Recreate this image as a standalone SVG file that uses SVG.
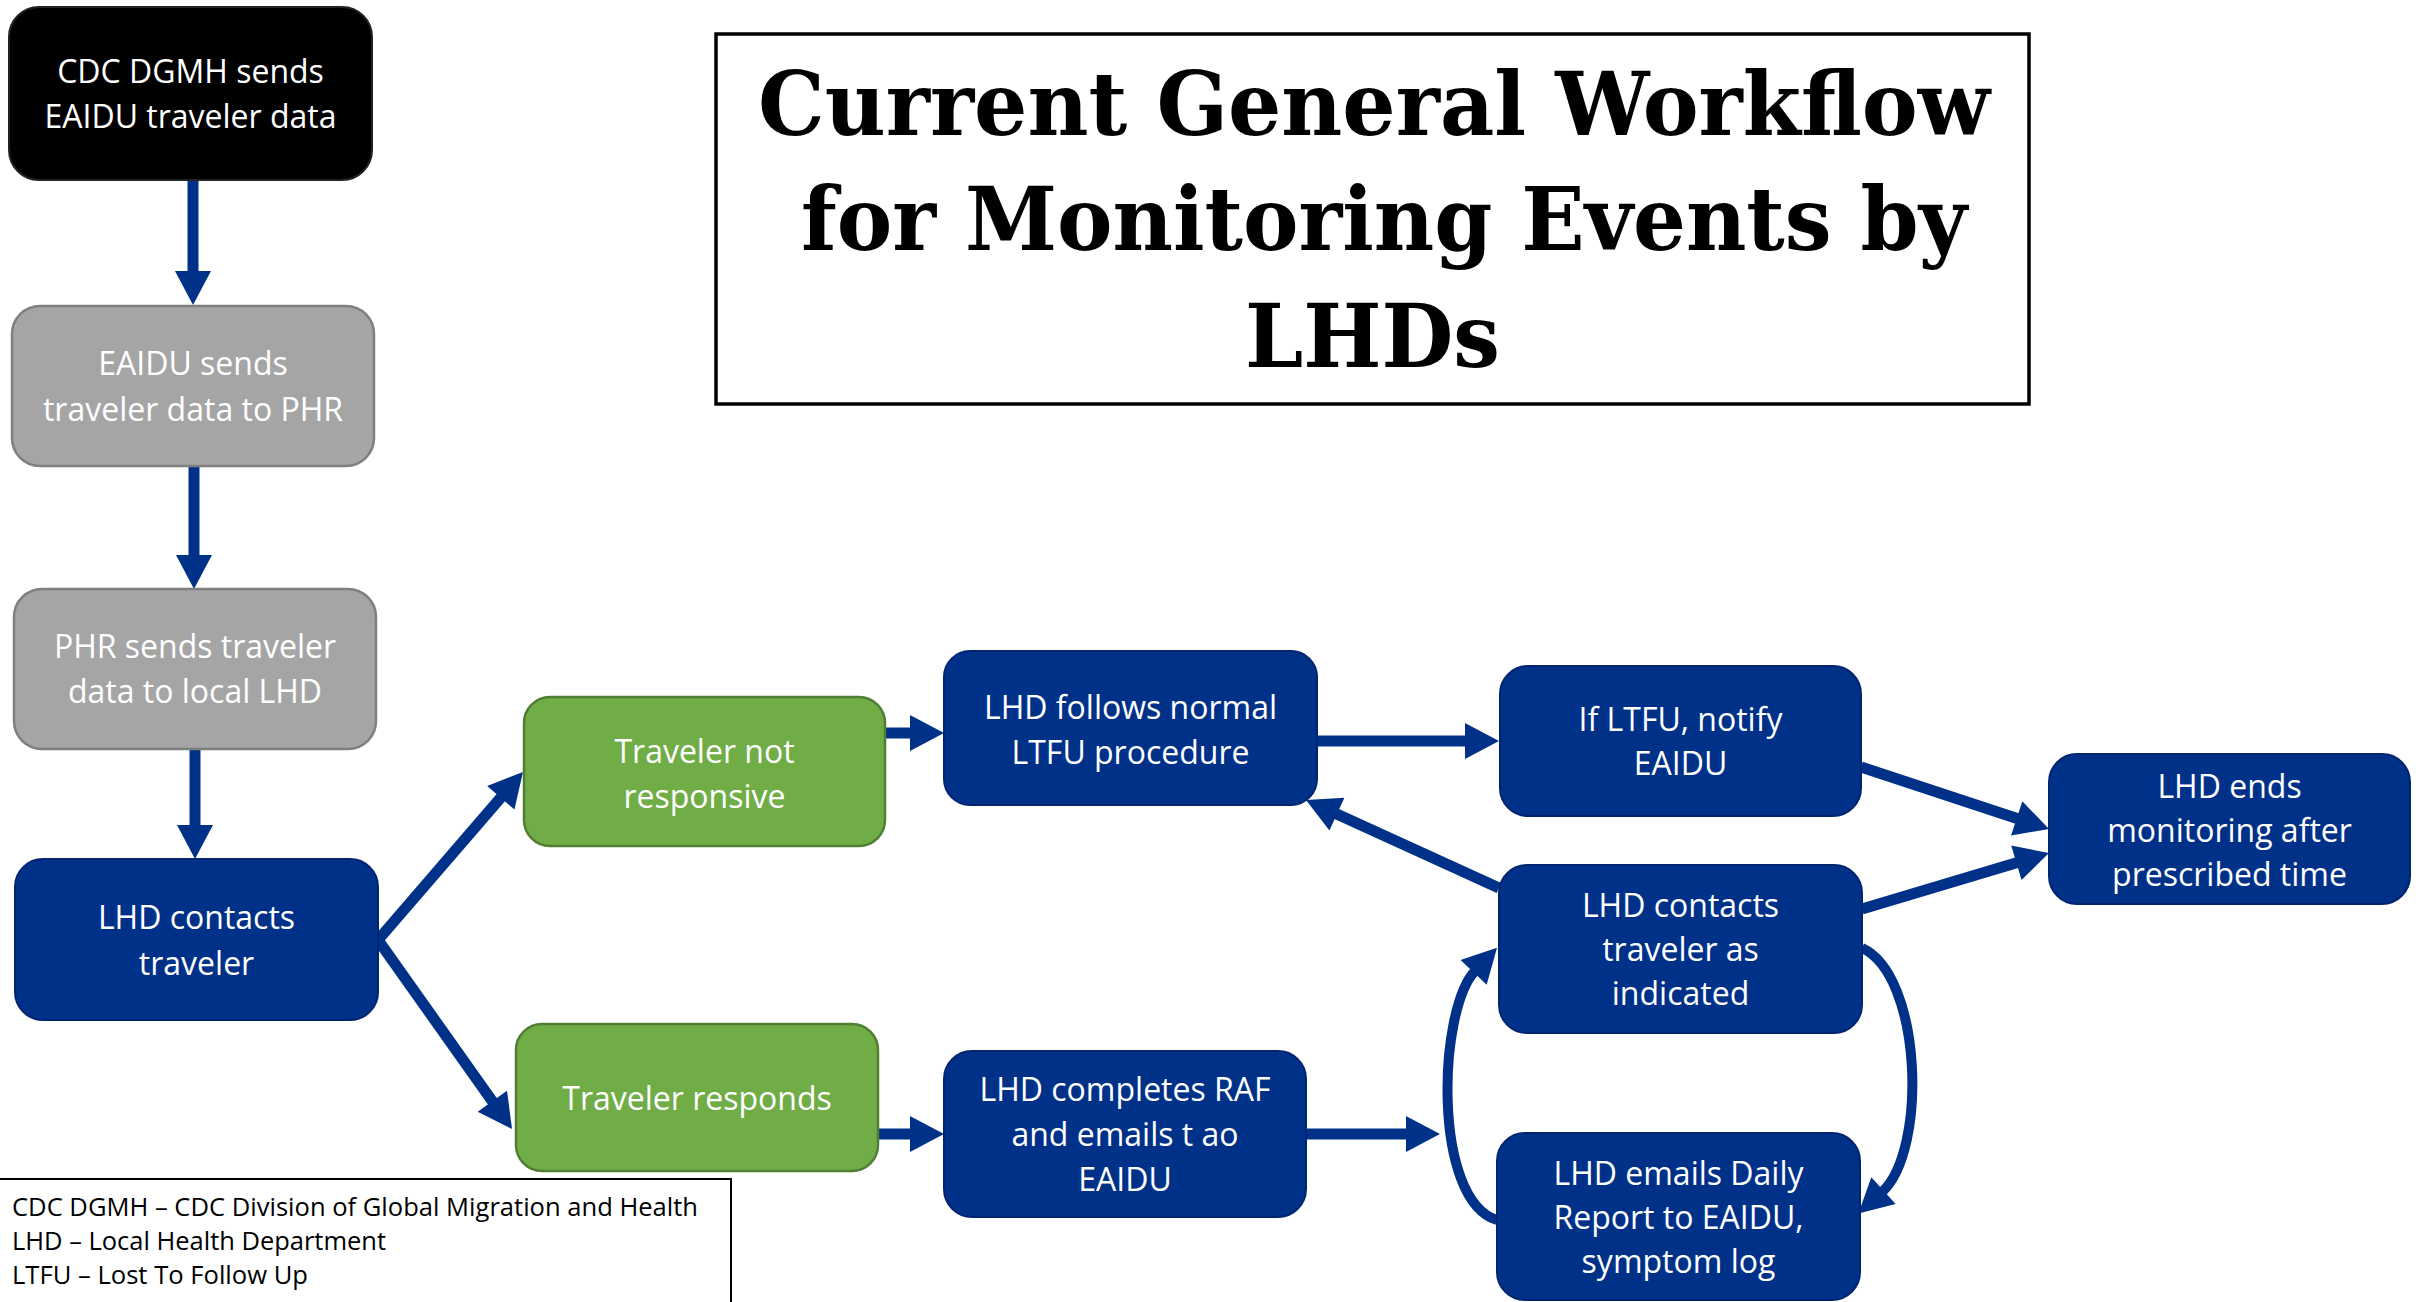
<svg xmlns="http://www.w3.org/2000/svg" width="2425" height="1302" viewBox="0 0 2425 1302">
<style>
.blue{fill:#003189;stroke:#002570;stroke-width:2}
.gray{fill:#a5a5a5;stroke:#7f7f7f;stroke-width:2.5}
.black{fill:#000;stroke:#222;stroke-width:2}
.green{fill:#70ad47;stroke:#507e32;stroke-width:2.5}
.nt{font-family:"Open Sans","Liberation Sans",sans-serif;font-size:32px;fill:#fff;text-anchor:middle}
.title{font-family:"DejaVu Serif","Liberation Serif",serif;font-weight:bold;font-size:88px;fill:#000}
.leg{font-family:"Open Sans","Liberation Sans",sans-serif;font-size:25.5px;fill:#000}
.c{stroke:#003189;stroke-width:11;fill:none;marker-end:url(#ah)}
.cc{stroke:#003189;stroke-width:10;fill:none;marker-end:url(#ah)}
</style>
<defs>
<marker id="ah" markerUnits="userSpaceOnUse" markerWidth="36" markerHeight="36" refX="2" refY="18" orient="auto" overflow="visible">
<path d="M0,0 L34,18 L0,36 Z" fill="#003189"/>
</marker>
</defs>
<rect width="2425" height="1302" fill="#fff"/>

<g id="title">
<rect x="716" y="34" width="1313" height="370" fill="#fff" stroke="#000" stroke-width="3.5"/>
<text class="title" x="758" y="135" textLength="1232" lengthAdjust="spacingAndGlyphs">Current General Workflow</text>
<text class="title" x="801" y="250" textLength="1166" lengthAdjust="spacingAndGlyphs">for Monitoring Events by</text>
<text class="title" x="1245" y="367" textLength="255" lengthAdjust="spacingAndGlyphs">LHDs</text>
</g>

<g id="legend">
<rect x="-3" y="1179" width="734" height="140" fill="#fff" stroke="#000" stroke-width="2"/>
<text class="leg" x="12" y="1216" textLength="686" lengthAdjust="spacingAndGlyphs">CDC DGMH – CDC Division of Global Migration and Health</text>
<text class="leg" x="12" y="1250" textLength="374" lengthAdjust="spacingAndGlyphs">LHD – Local Health Department</text>
<text class="leg" x="12" y="1284" textLength="296" lengthAdjust="spacingAndGlyphs">LTFU – Lost To Follow Up</text>
</g>

<g id="connectors">
<line class="c" x1="193" y1="180" x2="193" y2="273"/>
<line class="c" x1="194" y1="466" x2="194" y2="557"/>
<line class="c" x1="195" y1="749" x2="195" y2="827"/>
<line class="c" x1="378" y1="940" x2="502.1" y2="796.2"/>
<line class="c" x1="378" y1="940" x2="493.5" y2="1102.9"/>
<line class="c" x1="885" y1="733" x2="912" y2="733"/>
<line class="c" x1="878" y1="1134" x2="912" y2="1134"/>
<line class="c" x1="1317" y1="741" x2="1467" y2="741"/>
<line class="c" x1="1306" y1="1134" x2="1408" y2="1134"/>
<line class="c" x1="1499" y1="888" x2="1335.1" y2="813.3"/>
<line class="c" x1="1861" y1="767" x2="2018.6" y2="819"/>
<line class="c" x1="1862" y1="909" x2="2018.3" y2="862.2"/>
<path class="cc" d="M1862,948 C1922,975 1928,1150 1882,1192"/>
<path class="cc" d="M1497,1220 C1432,1200 1438,1010 1475,971"/>
</g>

<g id="n-cdc">
<rect class="black" x="9" y="7" width="363" height="173" rx="30"/>
<text class="nt" x="190.5" y="83">CDC DGMH sends</text>
<text class="nt" x="190.5" y="128">EAIDU traveler data</text>
</g>
<g id="n-eaidu">
<rect class="gray" x="12" y="306" width="362" height="160" rx="28"/>
<text class="nt" x="193" y="375">EAIDU sends</text>
<text class="nt" x="193" y="421">traveler data to PHR</text>
</g>
<g id="n-phr">
<rect class="gray" x="14" y="589" width="362" height="160" rx="28"/>
<text class="nt" x="195" y="658">PHR sends traveler</text>
<text class="nt" x="195" y="703">data to local LHD</text>
</g>
<g id="n-contact">
<rect class="blue" x="15" y="859" width="363" height="161" rx="28"/>
<text class="nt" x="196.5" y="929">LHD contacts</text>
<text class="nt" x="196.5" y="975">traveler</text>
</g>
<g id="n-notresp">
<rect class="green" x="524" y="697" width="361" height="149" rx="26"/>
<text class="nt" x="704.5" y="763">Traveler not</text>
<text class="nt" x="704.5" y="808">responsive</text>
</g>
<g id="n-resp">
<rect class="green" x="516" y="1024" width="362" height="147" rx="26"/>
<text class="nt" x="697" y="1110">Traveler responds</text>
</g>
<g id="n-ltfu">
<rect class="blue" x="944" y="651" width="373" height="154" rx="26"/>
<text class="nt" x="1130.5" y="719">LHD follows normal</text>
<text class="nt" x="1130.5" y="764">LTFU procedure</text>
</g>
<g id="n-raf">
<rect class="blue" x="944" y="1051" width="362" height="166" rx="28"/>
<text class="nt" x="1125" y="1101">LHD completes RAF</text>
<text class="nt" x="1125" y="1146">and emails t ao</text>
<text class="nt" x="1125" y="1191">EAIDU</text>
</g>
<g id="n-notify">
<rect class="blue" x="1500" y="666" width="361" height="150" rx="28"/>
<text class="nt" x="1680.5" y="731">If LTFU, notify</text>
<text class="nt" x="1680.5" y="775">EAIDU</text>
</g>
<g id="n-asind">
<rect class="blue" x="1499" y="865" width="363" height="168" rx="28"/>
<text class="nt" x="1680.5" y="917">LHD contacts</text>
<text class="nt" x="1680.5" y="961">traveler as</text>
<text class="nt" x="1680.5" y="1005">indicated</text>
</g>
<g id="n-daily">
<rect class="blue" x="1497" y="1133" width="363" height="167" rx="28"/>
<text class="nt" x="1678.5" y="1185">LHD emails Daily</text>
<text class="nt" x="1678.5" y="1229">Report to EAIDU,</text>
<text class="nt" x="1678.5" y="1273">symptom log</text>
</g>
<g id="n-end">
<rect class="blue" x="2049" y="754" width="361" height="150" rx="28"/>
<text class="nt" x="2229.5" y="798">LHD ends</text>
<text class="nt" x="2229.5" y="842">monitoring after</text>
<text class="nt" x="2229.5" y="886">prescribed time</text>
</g>
</svg>
